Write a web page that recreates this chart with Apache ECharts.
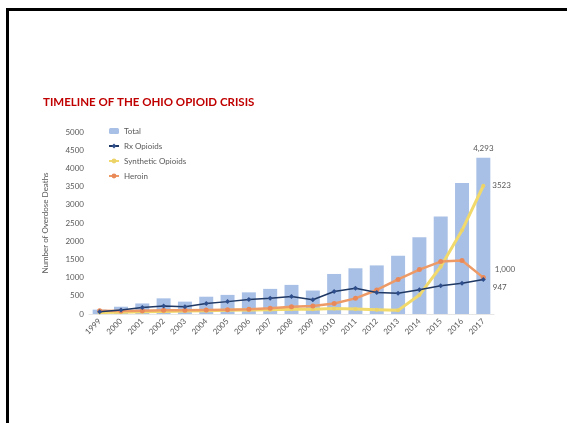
<!DOCTYPE html>
<html>
<head>
<meta charset="utf-8">
<script src="https://cdn.jsdelivr.net/npm/echarts@6/dist/echarts.min.js"></script>
<style>
html,body{margin:0;padding:0;background:#fff;}
#chart{width:567px;height:423px;}
</style>
</head>
<body>
<div id="chart"></div>
<script>
const years = ['1999','2000','2001','2002','2003','2004','2005','2006','2007','2008','2009','2010','2011','2012','2013','2014','2015','2016','2017'];
const total = [120, 200, 290, 430, 340, 475, 525, 595, 690, 800, 645, 1100, 1256, 1335, 1600, 2106, 2676, 3600, 4293];
const rxOpioids = [60, 110, 180, 220, 200, 290, 340, 400, 430, 480, 390, 620, 706, 590, 568, 665, 775, 843, 947];
const syntheticOpioids = [40, 50, 60, 70, 80, 90, 100, 110, 120, 130, 130, 150, 140, 120, 100, 520, 1300, 2300, 3523];
const heroin = [90, 80, 90, 100, 100, 110, 120, 130, 160, 200, 220, 290, 430, 660, 950, 1220, 1440, 1470, 1000];
const yTicks = [0, 500, 1000, 1500, 2000, 2500, 3000, 3500, 4000, 4500, 5000];

const chart = echarts.init(document.getElementById('chart'));
const gray = '#595959';
const font = 'Lato, "Open Sans", sans-serif';
function lastLabel(arr, fmt, pos, offset) {
  return arr.map((v, i) => i === arr.length - 1 ? {
    value: v,
    label: {show: true, position: pos, offset: offset, color: gray, fontSize: 8, fontFamily: font, formatter: fmt}
  } : v);
}
chart.setOption({
  animation: false,
  textStyle: {fontFamily: font},
  title: {
    text: 'TIMELINE OF THE OHIO OPIOID CRISIS',
    left: 38, top: 91,
    textStyle: {color: '#C00000', fontSize: 11.5, fontWeight: 'bold', fontFamily: font}
  },
  legend: {
    orient: 'vertical', left: 103, top: 122,
    itemWidth: 10, itemHeight: 6, itemGap: 7,
    textStyle: {color: gray, fontSize: 8, fontFamily: font},
    data: ['Total', 'Rx Opioids', 'Synthetic Opioids', 'Heroin']
  },
  grid: {left: 89, right: 73, top: 132, bottom: 109},
  xAxis: {
    type: 'category', data: years,
    axisLine: {show: true, lineStyle: {color: '#e6e6e6'}},
    axisTick: {show: false},
    axisLabel: {rotate: 45, color: gray, fontSize: 8, margin: 6, interval: 0}
  },
  yAxis: {
    type: 'value', min: 0, max: 5000, interval: 500,
    name: 'Number of Overdose Deaths', nameLocation: 'middle', nameGap: 40,
    nameTextStyle: {color: gray, fontSize: 8},
    splitLine: {show: false}, axisLine: {show: false}, axisTick: {show: false},
    axisLabel: {color: gray, fontSize: 8, margin: 5,
      formatter: v => yTicks.includes(v) ? String(v) : ''}
  },
  series: [
    {
      name: 'Total', type: 'bar', barWidth: 14,
      itemStyle: {color: '#A9C0E6'},
      data: lastLabel(total, p => p.value.toLocaleString('en-US'), 'top', [0, 0])
    },
    {
      name: 'Rx Opioids', type: 'line', symbol: 'diamond', symbolSize: 5,
      lineStyle: {color: '#1F3864', width: 1.5}, itemStyle: {color: '#2F4E8C'},
      data: lastLabel(rxOpioids, p => String(p.value), 'right', [2, 8]), z: 5
    },
    {
      name: 'Synthetic Opioids', type: 'line', symbol: 'circle', symbolSize: 4,
      lineStyle: {color: '#F2D96B', width: 3}, itemStyle: {color: '#EBD36A'},
      data: lastLabel(syntheticOpioids, p => String(p.value), 'right', [2, 0]), z: 3
    },
    {
      name: 'Heroin', type: 'line', symbol: 'circle', symbolSize: 5,
      lineStyle: {color: '#EE9A66', width: 2.5}, itemStyle: {color: '#E9895A'},
      data: lastLabel(heroin, p => p.value.toLocaleString('en-US'), 'right', [4, -8]), z: 4
    }
  ],
  graphic: [
    {type: 'line', shape: {x1: 6, y1: 9.5, x2: 567, y2: 9.5}, style: {stroke: '#000', lineWidth: 3}, silent: true},
    {type: 'line', shape: {x1: 7.5, y1: 8, x2: 7.5, y2: 423}, style: {stroke: '#000', lineWidth: 3}, silent: true}
  ]
});
</script>
</body>
</html>
